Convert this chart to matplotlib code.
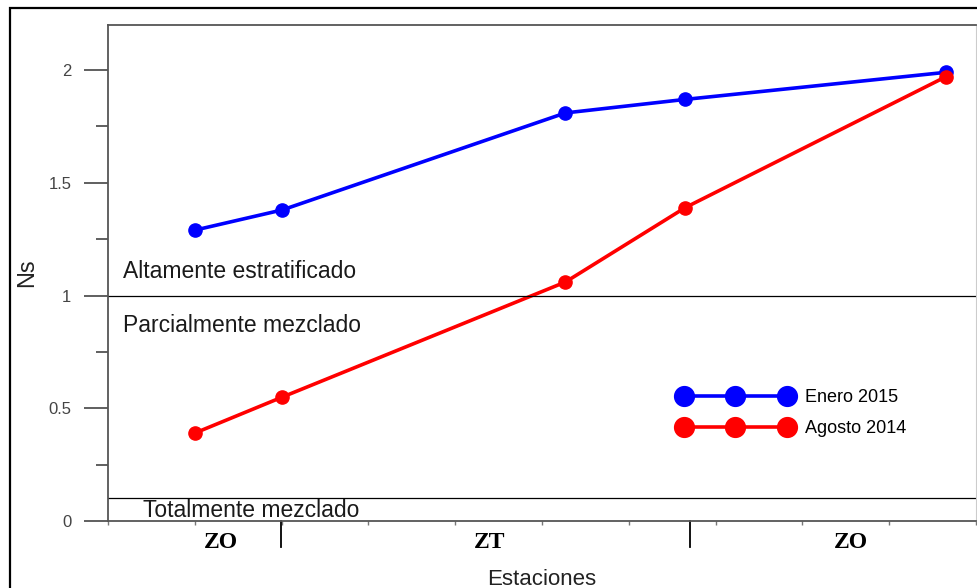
import matplotlib.pyplot as plt
from matplotlib.patches import Rectangle
import matplotlib.transforms as mtransforms

plt.rcParams['font.family'] = ['Liberation Sans', 'DejaVu Sans']

# posiciones de estaciones (unidades arbitrarias del eje x)
estaciones = [1.0, 2.01, 5.27, 6.65, 9.65]
ns_enero_2015 = [1.29, 1.38, 1.81, 1.87, 1.99]
ns_agosto_2014 = [0.39, 0.55, 1.06, 1.39, 1.97]

y_ticks = [0, 0.5, 1, 1.5, 2]
y_tick_labels = ["0", "0.5", "1", "1.5", "2"]

# limites de las categorias de estratificacion
limites_ns = [1.0, 0.1]
zonas = ["ZO", "ZT", "ZO"]
zonas_centro = [1.3, 4.4, 8.56]
zonas_limites = [1.99, 6.71]

fig = plt.figure(figsize=(9.77, 5.88), dpi=100)
ax = fig.add_axes([108 / 977, 1 - 521 / 588, 868 / 977, 496 / 588])

# marco exterior
fig.patches.append(Rectangle((10 / 977, -0.1), 1.2, 1.1 - 8 / 588,
                             transform=fig.transFigure, fill=False,
                             edgecolor='black', linewidth=1.6))

ax.plot(estaciones, ns_enero_2015, color='blue', linewidth=2.6, marker='o',
        markersize=9.5, label='Enero 2015')
ax.plot(estaciones, ns_agosto_2014, color='red', linewidth=2.6, marker='o',
        markersize=9.5, label='Agosto 2014')

for lim in limites_ns:
    ax.axhline(lim, color='black', linewidth=0.9)

ax.text(0.173, 1.078, 'Altamente estratificado', fontsize=16.5, color='#1a1a1a')
ax.text(0.173, 0.838, 'Parcialmente mezclado', fontsize=16.5, color='#1a1a1a')
ax.text(0.403, 0.018, 'Totalmente mezclado', fontsize=16.5, color='#1a1a1a')

ax.set_xlim(0, 10)
ax.set_ylim(0, 2.2)
ax.set_xticks(range(0, 11))
ax.set_xticklabels([])
ax.set_yticks(y_ticks)
ax.set_yticklabels(y_tick_labels)
ax.set_yticks([0.25, 0.75, 1.25, 1.75], minor=True)
ax.tick_params(axis='y', which='major', length=17, width=1.2, color='#444444',
               labelsize=12, labelcolor='#444444', pad=9.4)
ax.tick_params(axis='y', which='minor', length=8.5, width=1.2, color='#444444')
ax.tick_params(axis='x', which='major', length=3, width=1, color='#777777')

for side in ['left', 'bottom', 'top']:
    ax.spines[side].set_color('#555555')
    ax.spines[side].set_linewidth(1.3)
ax.spines['right'].set_color('#cccccc')

# etiquetas de zonas
trans = mtransforms.blended_transform_factory(ax.transData, ax.transAxes)
for nombre, xc in zip(zonas, zonas_centro):
    ax.text(xc, -0.043, nombre, transform=trans, ha='center', va='center',
            fontsize=17, fontweight='bold', family='Liberation Serif')
for xl in zonas_limites:
    ax.plot([xl, xl], [0, -0.052], transform=trans, color='black',
            linewidth=1.3, clip_on=False)

ax.set_xlabel('Estaciones', fontsize=16, color='#222222', labelpad=28)
ax.set_ylabel('Ns', fontsize=17, color='#222222', labelpad=7)

ax.legend(loc='upper left', bbox_to_anchor=(0.6386, 0.298), frameon=False,
          numpoints=3, markerscale=1.5, handlelength=6.3, fontsize=13,
          labelspacing=0.75, handletextpad=0.7)

fig.savefig('out.png', dpi=100)
